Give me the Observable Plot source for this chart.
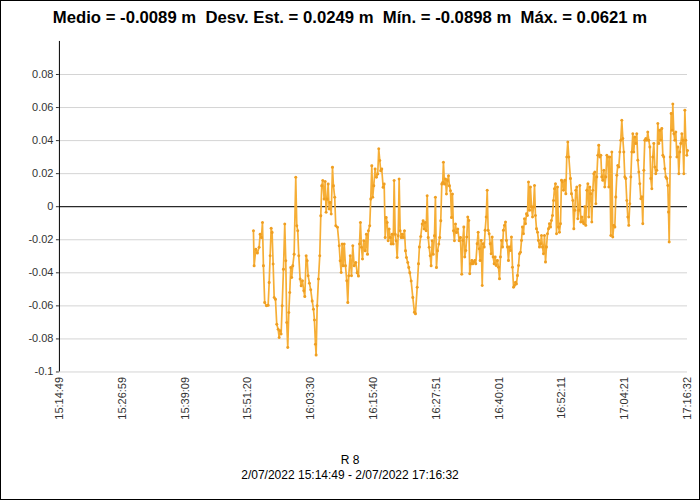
<!DOCTYPE html>
<html><head><meta charset="utf-8">
<script src="https://cdn.jsdelivr.net/npm/d3@7"></script>
<script src="https://cdn.jsdelivr.net/npm/@observablehq/plot@0.6"></script>
<style>
body{margin:0;background:#fff;}
#wrap{position:relative;width:700px;height:500px;border:1px solid #000;box-sizing:border-box;font-family:"Liberation Sans",Arial,sans-serif;overflow:hidden;background:#fff}
#chart{position:absolute;left:-1px;top:-1px}
#title{position:absolute;left:0;top:7px;width:100%;text-align:center;font-weight:bold;font-size:16.7px;white-space:pre;color:#000}
.cap{position:absolute;left:0;width:100%;text-align:center;font-size:12px;color:#000}
</style></head><body>
<div id="wrap">
  <div id="chart"></div>
  <div id="title"></div>
  <div class="cap" id="cap1" style="top:452px"></div>
  <div class="cap" id="cap2" style="top:467px"></div>
</div>
<script>
const titleText = "Medio = -0.0089 m  Desv. Est. = 0.0249 m  Mín. = -0.0898 m  Máx. = 0.0621 m";
const seriesName = "R 8";
const dateText = "2/07/2022 15:14:49 - 2/07/2022 17:16:32";
const day = "2022-07-02";
const rangeStart = "15:14:49";
const rangeEnd = "17:16:32";
const xTickLabels = ["15:14:49","15:26:59","15:39:09","15:51:20","16:03:30","16:15:40","16:27:51","16:40:01","16:52:11","17:04:21","17:16:32"];
const yTickValues = [-0.1,-0.08,-0.06,-0.04,-0.02,0,0.02,0.04,0.06,0.08];

const times = [
"15:52:25","15:52:33","15:52:52","15:53:11","15:53:31","15:53:43","15:53:58","15:54:10","15:54:21","15:54:36",
"15:54:56","15:55:16","15:55:28","15:55:39","15:55:51","15:56:02","15:56:14","15:56:26","15:56:41","15:56:56",
"15:57:12","15:57:24","15:57:35","15:57:47","15:57:59","15:58:14","15:58:29","15:58:41","15:58:52","15:59:04",
"15:59:16","15:59:27","15:59:39","15:59:50","16:00:02","16:00:18","16:00:37","16:00:49","16:01:00","16:01:12",
"16:01:28","16:01:40","16:01:55","16:02:10","16:02:22","16:02:38","16:02:50","16:03:01","16:03:16","16:03:31",
"16:03:48","16:04:03","16:04:14","16:04:26","16:04:34","16:04:46","16:05:01","16:05:16","16:05:28","16:05:39",
"16:05:51","16:06:07","16:06:19","16:06:30","16:06:42","16:06:54","16:07:05","16:07:17","16:07:29","16:07:44",
"16:07:55","16:08:10","16:08:22","16:08:42","16:09:02","16:09:13","16:09:25","16:09:36","16:09:48","16:10:00",
"16:10:15","16:10:30","16:10:42","16:10:53","16:11:10","16:11:25","16:11:40","16:11:56","16:12:15","16:12:31",
"16:12:46","16:12:58","16:13:09","16:13:21","16:13:33","16:13:48","16:14:04","16:14:19","16:14:31","16:14:42",
"16:14:57","16:15:09","16:15:21","16:15:32","16:15:44","16:16:00","16:16:15","16:16:30","16:16:42","16:16:54",
"16:17:05","16:17:17","16:17:33","16:17:45","16:17:57","16:18:08","16:18:20","16:18:31","16:18:43","16:18:55",
"16:19:06","16:19:18","16:19:30","16:19:41","16:19:53","16:20:04","16:20:16","16:20:28","16:20:39","16:20:51",
"16:21:03","16:21:14","16:21:26","16:21:41","16:21:53","16:22:04","16:22:19","16:22:31","16:22:43","16:22:59",
"16:23:18","16:23:37","16:23:49","16:24:09","16:24:24","16:24:35","16:24:50","16:25:07","16:25:18","16:25:30",
"16:25:42","16:25:53","16:26:05","16:26:17","16:26:28","16:26:40","16:26:51","16:27:03","16:27:15","16:27:30",
"16:27:41","16:27:53","16:28:05","16:28:20","16:28:31","16:28:43","16:28:55","16:29:06","16:29:14","16:29:26",
"16:29:38","16:29:49","16:30:01","16:30:13","16:30:24","16:30:36","16:30:48","16:30:59","16:31:11","16:31:22",
"16:31:34","16:31:46","16:32:01","16:32:17","16:32:32","16:32:47","16:32:59","16:33:11","16:33:22","16:33:34",
"16:33:45","16:33:57","16:34:09","16:34:20","16:34:32","16:34:44","16:34:55","16:35:07","16:35:19","16:35:30",
"16:35:46","16:35:58","16:36:10","16:36:21","16:36:33","16:36:45","16:36:56","16:37:08","16:37:19","16:37:31",
"16:37:43","16:37:54","16:38:06","16:38:18","16:38:29","16:38:41","16:38:52","16:39:04","16:39:16","16:39:27",
"16:39:42","16:39:54","16:40:06","16:40:17","16:40:29","16:40:41","16:40:52","16:41:04","16:41:16","16:41:27",
"16:41:39","16:41:50","16:42:02","16:42:14","16:42:25","16:42:37","16:42:49","16:43:00","16:43:12","16:43:23",
"16:43:35","16:43:47","16:43:58","16:44:10","16:44:22","16:44:33","16:44:45","16:44:56","16:45:08","16:45:20",
"16:45:31","16:45:43","16:45:55","16:46:06","16:46:18","16:46:30","16:46:41","16:46:53","16:47:04","16:47:16",
"16:47:28","16:47:39","16:47:51","16:48:03","16:48:14","16:48:26","16:48:37","16:48:49","16:49:01","16:49:12",
"16:49:24","16:49:36","16:49:47","16:49:59","16:50:10","16:50:22","16:50:34","16:50:45","16:50:57","16:51:09",
"16:51:20","16:51:32","16:51:43","16:51:55","16:52:07","16:52:18","16:52:30","16:52:45","16:52:57","16:53:08",
"16:53:20","16:53:32","16:53:51","16:54:03","16:54:18","16:54:30","16:54:41","16:54:53","16:55:05","16:55:16",
"16:55:28","16:55:40","16:55:51","16:56:03","16:56:14","16:56:26","16:56:38","16:56:49","16:57:01","16:57:13",
"16:57:24","16:57:36","16:57:47","16:57:59","16:58:11","16:58:22","16:58:34","16:58:46","16:58:57","16:59:09",
"16:59:20","16:59:32","16:59:44","16:59:55","17:00:07","17:00:19","17:00:30","17:00:42","17:00:54","17:01:05",
"17:01:17","17:01:28","17:01:40","17:01:52","17:02:03","17:02:15","17:02:27","17:02:38","17:02:50","17:03:01",
"17:03:13","17:03:25","17:03:36","17:03:48","17:04:00","17:04:11","17:04:23","17:04:34","17:04:46","17:04:58",
"17:05:09","17:05:21","17:05:33","17:05:44","17:05:56","17:06:07","17:06:19","17:06:31","17:06:42","17:06:54",
"17:07:06","17:07:17","17:07:29","17:07:41","17:07:52","17:08:04","17:08:15","17:08:27","17:08:39","17:08:50",
"17:09:02","17:09:14","17:09:25","17:09:37","17:09:48","17:10:00","17:10:12","17:10:23","17:10:35","17:10:47",
"17:10:58","17:11:10","17:11:21","17:11:33","17:11:45","17:11:56","17:12:08","17:12:20","17:12:31","17:12:43",
"17:12:51","17:12:59","17:13:11","17:13:22","17:13:34","17:13:41","17:13:53","17:14:04","17:14:16","17:14:28",
"17:14:39","17:14:51","17:15:02","17:15:14","17:15:26","17:15:37","17:15:49","17:16:01","17:16:12","17:16:24",
"17:16:32"
];

const values = [
-0.0145,-0.0358,-0.0257,-0.0280,-0.0246,-0.0166,-0.0186,-0.0095,-0.0358,-0.0580,
-0.0600,-0.0596,-0.0459,-0.0297,-0.0131,-0.0156,-0.0347,-0.0549,-0.0560,-0.0711,
-0.0741,-0.0792,-0.0751,-0.0770,-0.0600,-0.0378,-0.0105,-0.0327,-0.0701,-0.0852,
-0.0640,-0.0519,-0.0368,-0.0428,-0.0358,-0.0287,0.0178,-0.0115,-0.0145,-0.0297,
-0.0438,-0.0479,-0.0448,-0.0509,-0.0543,-0.0297,-0.0327,-0.0418,-0.0463,-0.0503,
-0.0570,-0.0620,-0.0685,-0.0832,-0.0898,-0.0600,-0.0438,-0.0297,-0.0055,0.0127,
0.0158,0.0046,0.0152,-0.0034,0.0046,0.0137,-0.0014,0.0026,-0.0044,0.0238,
0.0127,0.0057,-0.0115,-0.0125,-0.0236,-0.0327,-0.0398,-0.0226,-0.0358,-0.0226,
-0.0358,-0.0448,-0.0580,-0.0418,-0.0297,-0.0418,-0.0236,-0.0358,-0.0337,-0.0400,
-0.0420,-0.0226,-0.0095,-0.0246,-0.0317,-0.0206,-0.0267,-0.0166,-0.0287,-0.0145,
-0.0115,0.0046,0.0248,0.0057,0.0127,0.0228,0.0178,0.0198,0.0350,0.0279,
0.0218,0.0228,0.0117,0.0137,-0.0186,-0.0065,-0.0095,-0.0206,-0.0135,-0.0186,
-0.0226,-0.0166,-0.0226,0.0158,-0.0166,-0.0206,-0.0307,-0.0176,0.0168,-0.0145,
-0.0186,-0.0166,-0.0186,-0.0145,-0.0267,-0.0307,-0.0337,-0.0368,-0.0400,-0.0450,
-0.0550,-0.0638,-0.0648,-0.0487,-0.0345,-0.0244,-0.0180,-0.0105,-0.0085,-0.0135,
-0.0095,-0.0145,0.0067,-0.0186,-0.0246,-0.0297,-0.0358,-0.0206,-0.0287,-0.0176,
0.0057,-0.0368,-0.0267,-0.0226,-0.0186,-0.0085,0.0137,0.0147,0.0269,0.0137,
0.0168,0.0077,0.0158,0.0188,0.0127,0.0097,-0.0065,0.0077,-0.0145,-0.0206,
-0.0105,-0.0156,-0.0135,-0.0206,-0.0186,-0.0408,-0.0204,-0.0123,-0.0305,-0.0265,
-0.0184,-0.0063,-0.0083,-0.0406,-0.0345,-0.0325,-0.0345,-0.0335,-0.0325,-0.0345,
-0.0224,-0.0154,-0.0255,-0.0325,-0.0204,-0.0477,-0.0224,-0.0244,-0.0143,-0.0063,
0.0099,-0.0143,-0.0164,-0.0224,-0.0285,-0.0184,-0.0305,-0.0345,-0.0305,-0.0356,
-0.0325,-0.0366,-0.0436,-0.0305,-0.0204,-0.0244,-0.0143,-0.0113,-0.0093,-0.0204,
-0.0244,-0.0325,-0.0244,-0.0265,-0.0184,-0.0366,-0.0487,-0.0477,-0.0457,-0.0467,
-0.0416,-0.0356,-0.0285,-0.0275,-0.0204,-0.0123,-0.0164,-0.0073,-0.0103,-0.0042,
-0.0053,0.0149,-0.0022,0.0119,0.0000,-0.0063,-0.0002,0.0129,-0.0053,-0.0133,
-0.0154,-0.0204,-0.0244,-0.0224,-0.0174,-0.0244,-0.0285,-0.0174,-0.0335,-0.0244,
-0.0164,-0.0133,-0.0103,-0.0123,-0.0083,-0.0053,0.0038,0.0109,0.0139,-0.0164,
0.0119,-0.0123,-0.0154,-0.0103,0.0160,0.0149,0.0099,0.0160,0.0079,0.0301,
0.0392,0.0301,0.0170,0.0079,0.0038,-0.0133,-0.0022,0.0099,0.0119,-0.0073,
-0.0022,0.0129,-0.0093,-0.0063,-0.0093,-0.0103,0.0000,-0.0113,0.0099,0.0139,
-0.0063,0.0119,0.0079,-0.0093,0.0099,0.0200,0.0210,0.0018,0.0180,0.0311,
0.0372,0.0301,0.0311,0.0180,0.0160,0.0220,0.0119,0.0180,0.0311,0.0301,
0.0119,0.0301,-0.0174,0.0331,-0.0184,-0.0113,-0.0123,0.0059,0.0190,0.0250,
0.0240,0.0331,0.0402,0.0523,0.0412,0.0331,0.0180,0.0170,0.0038,-0.0063,
-0.0113,0.0018,0.0180,0.0331,0.0442,0.0331,0.0422,0.0382,0.0442,0.0281,
0.0210,0.0139,0.0048,0.0060,-0.0103,0.0220,0.0402,0.0412,0.0402,0.0452,
0.0402,0.0362,0.0170,0.0109,0.0301,0.0382,0.0240,0.0200,0.0220,0.0503,
0.0382,0.0463,0.0402,0.0473,0.0311,0.0301,0.0230,0.0180,0.0170,0.0129,
-0.0032,-0.0214,0.0301,0.0564,0.0463,0.0621,0.0442,0.0402,0.0452,0.0301,
0.0362,0.0200,0.0331,0.0382,0.0442,0.0402,0.0200,0.0584,0.0402,0.0311,
0.0340
];

const parseT = t => new Date(day + "T" + t);
const data = times.map((t, i) => ({time: parseT(t), value: values[i]}));
const x0 = parseT(rangeStart), x1 = parseT(rangeEnd);
const xTicks = xTickLabels.map(parseT);
const fmtTime = d3.timeFormat("%H:%M:%S");

document.getElementById("title").textContent = titleText;
document.getElementById("cap1").textContent = seriesName;
document.getElementById("cap2").textContent = dateText;

const chart = Plot.plot({
  width: 700,
  height: 500,
  marginLeft: 59,
  marginRight: 12,
  marginTop: 41,
  marginBottom: 128,
  style: {fontFamily: "'Liberation Sans', Arial, sans-serif", fontSize: "11px", color: "#333", background: "transparent"},
  x: {type: "time", domain: [x0, x1], ticks: xTicks, tickFormat: fmtTime, tickRotate: -90, tickSize: 0, tickPadding: 5, label: null},
  y: {domain: [-0.1, 0.1], ticks: yTickValues, tickFormat: d => String(d), tickSize: 3, tickPadding: 3, label: null},
  marks: [
    Plot.gridY(yTickValues, {stroke: "#d4d4d4", strokeOpacity: 1}),
    Plot.ruleY([0], {stroke: "#000", strokeWidth: 1}),
    Plot.ruleX([x0], {stroke: "#000", strokeWidth: 1}),
    Plot.line(data, {x: "time", y: "value", stroke: "#f6ae36", strokeWidth: 1.7}),
    Plot.dot(data, {x: "time", y: "value", r: 1.5, fill: "#ef9f22", stroke: "none"})
  ]
});
document.getElementById("chart").appendChild(chart);
</script>
</body></html>
